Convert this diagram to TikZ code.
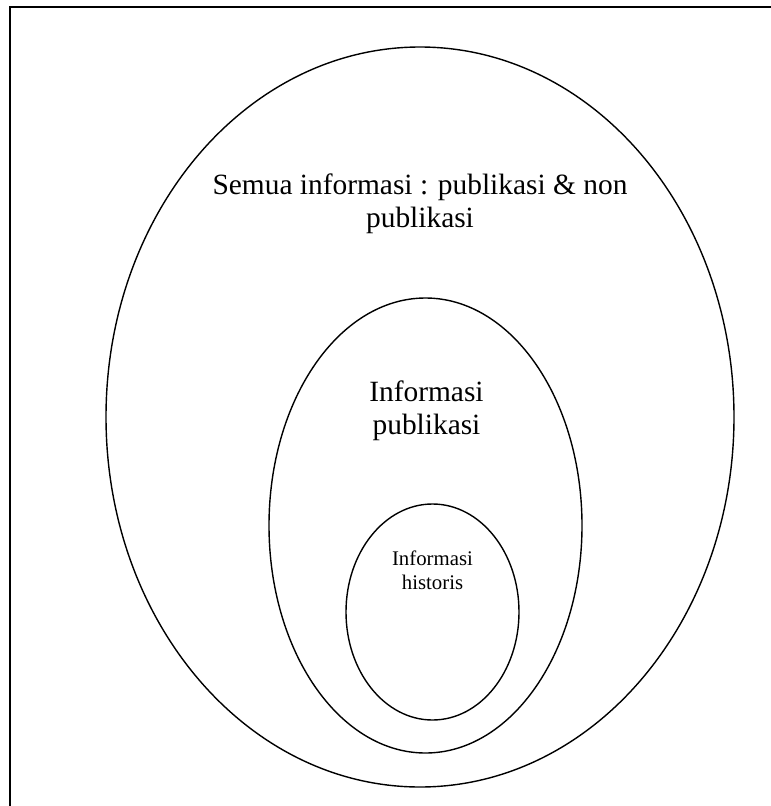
\documentclass[tikz,border=0pt]{standalone}
\usepackage{fontspec}
\setmainfont{Liberation Serif}
\usepackage{tikz}
\usetikzlibrary{positioning, shapes.geometric}

\begin{document}
\begin{tikzpicture}[
        x=1pt, y=-1pt,
        set/.style={draw, ellipse, line width=1.4pt, inner sep=0pt},
        big/.style={align=center, inner sep=0pt, font=\fontsize{29.4}{33}\selectfont},
        small/.style={align=center, inner sep=0pt, font=\fontsize{20.8}{24}\selectfont},
        frame/.style={line width=1.8pt}
    ]
    \useasboundingbox (0,0) rectangle (771,806);
    % Bingkai: hanya sisi atas dan kiri
    \coordinate (fBL) at (10,806);
    \coordinate (fTL) at (10,7);
    \coordinate (fTR) at (771,7);
    \draw[frame] (fBL) -- (fTL) -- (fTR);
    % Himpunan bersarang
    \node[set, minimum width=628pt, minimum height=740pt] (semua) at (420,417) {};
    \node[set, minimum width=313pt, minimum height=455pt] (publik) at (425.5,525.5) {};
    \node[set, minimum width=173pt, minimum height=216pt] (histori) at (432.5,612) {};
    % Label
    \node[big] (tSemua) at (420,203.5) {Semua informasi : publikasi \& non\\publikasi};
    \node[big] (tPublik) at (426.5,410.5) {Informasi\\publikasi};
    \node[small] (tHistori) at (432.5,570) {Informasi\\historis};
\end{tikzpicture}
\end{document}
